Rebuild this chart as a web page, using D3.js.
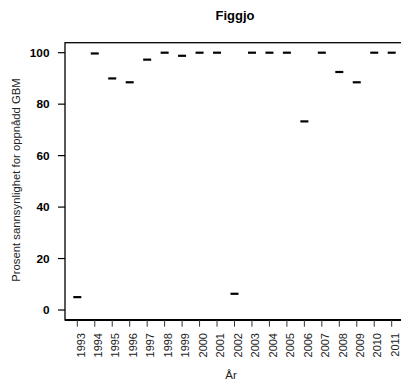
<!DOCTYPE html>
<html><head><meta charset="utf-8">
<script src="https://cdn.jsdelivr.net/npm/d3@7"></script>
<style>body{margin:0;background:#fff}svg{display:block}text{font-family:"Liberation Sans",Arial,sans-serif}</style>
</head><body>
<script>
const years = ["1993","1994","1995","1996","1997","1998","1999","2000","2001","2002","2003","2004","2005","2006","2007","2008","2009","2010","2011"];
const values = [5,99.7,90,88.5,97.3,100,98.8,100,100,6.3,100,100,100,73.3,100,92.5,88.5,100,100];
const yTicks = [0,20,40,60,80,100];
const title = "Figgjo";
const yLabel = "Prosent sannsynlighet for oppnådd GBM";
const xLabel = "År";

(function(){
const W = 401, H = 381;
const svg = d3.select("body").append("svg").attr("width", W).attr("height", H);
const pL = 65, pT = 42.7, pB = 320, pR = 404;

const x = d3.scalePoint().domain(years).range([77.3, 391.7]);
const y = d3.scaleLinear().domain([0,100]).range([310, 52.7]);

svg.append("rect").attr("x", pL).attr("y", pT).attr("width", pR-pL).attr("height", pB-pT)
  .attr("fill","none").attr("stroke","#000").attr("stroke-width",1.3);
svg.append("line").attr("x1",pL).attr("x2",W).attr("y1",pB).attr("y2",pB).attr("stroke","#000").attr("stroke-width",2);

const ya = svg.append("g");
yTicks.forEach(t=>{
  ya.append("line").attr("x1",58).attr("x2",pL).attr("y1",y(t)).attr("y2",y(t)).attr("stroke","#000").attr("stroke-width",1.2);
  ya.append("text").attr("x",49.5).attr("y",y(t)).attr("dy","0.36em").attr("text-anchor","end")
    .attr("font-size",11.8).attr("font-weight","bold").text(t);
});

const xa = svg.append("g");
years.forEach(yr=>{
  xa.append("line").attr("x1",x(yr)).attr("x2",x(yr)).attr("y1",pB).attr("y2",326.7).attr("stroke","#333").attr("stroke-width",1);
  xa.append("text").attr("transform",`translate(${x(yr)+7.2},333) rotate(-90)`).attr("text-anchor","end")
    .attr("font-size",11).attr("fill","#222").text(yr);
});

svg.append("g").selectAll("line.m").data(years).join("line")
  .attr("x1",d=>x(d)-4).attr("x2",d=>x(d)+4)
  .attr("y1",(d,i)=>y(values[i])).attr("y2",(d,i)=>y(values[i]))
  .attr("stroke","#000").attr("stroke-width",2.2);

svg.append("text").attr("x",235).attr("y",19.5).attr("text-anchor","middle").attr("font-size",13).attr("font-weight","bold").text(title);
svg.append("text").attr("transform","translate(19.5,180) rotate(-90)").attr("text-anchor","middle").attr("font-size",11.3).attr("fill","#222").text(yLabel);
svg.append("text").attr("x",231).attr("y",379).attr("text-anchor","middle").attr("font-size",11.5).attr("fill","#222").text(xLabel);
})();
</script>
</body></html>
